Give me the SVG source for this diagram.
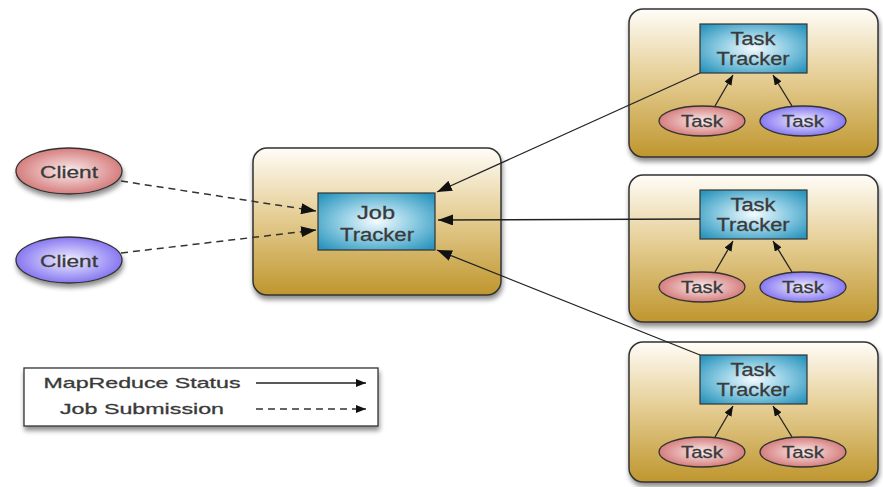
<svg xmlns="http://www.w3.org/2000/svg" width="883" height="487" viewBox="0 0 883 487">
<defs>
<linearGradient id="gold" x1="0" y1="0" x2="0" y2="1">
<stop offset="0" stop-color="#fffdf8"/>
<stop offset="0.45" stop-color="#e6cf97"/>
<stop offset="1" stop-color="#bf962e"/>
</linearGradient>
<radialGradient id="cyan" cx="0.5" cy="0.5" r="0.65">
<stop offset="0" stop-color="#f4fbff"/>
<stop offset="0.5" stop-color="#8ccbe2"/>
<stop offset="1" stop-color="#2c95bd"/>
</radialGradient>
<radialGradient id="red" cx="0.5" cy="0.5" r="0.55">
<stop offset="0" stop-color="#fbeeee"/>
<stop offset="1" stop-color="#d27272"/>
</radialGradient>
<radialGradient id="blue" cx="0.5" cy="0.5" r="0.55">
<stop offset="0" stop-color="#f1f0ff"/>
<stop offset="1" stop-color="#7c6cf0"/>
</radialGradient>
<filter id="sh" x="-10%" y="-10%" width="125%" height="130%">
<feGaussianBlur in="SourceAlpha" stdDeviation="2.5"/>
<feOffset dx="1" dy="4" result="b"/>
<feComponentTransfer><feFuncA type="linear" slope="0.45"/></feComponentTransfer>
<feMerge><feMergeNode/><feMergeNode in="SourceGraphic"/></feMerge>
</filter>
<marker id="ah" markerWidth="10" markerHeight="8" refX="10" refY="4" orient="auto" markerUnits="userSpaceOnUse" viewBox="0 0 10 8">
<path d="M0,0 L10,4 L0,8 z" fill="#111"/>
</marker>
<marker id="ahb" markerWidth="15" markerHeight="11" refX="15" refY="5.5" orient="auto" markerUnits="userSpaceOnUse" viewBox="0 0 15 11">
<path d="M0,0 L15,5.5 L0,11 z" fill="#111"/>
</marker>
</defs>
<style>
.outer{fill:url(#gold);stroke:#333;stroke-width:1.5;filter:url(#sh)}
.tr{fill:url(#cyan);stroke:#333;stroke-width:1.2}
.er{fill:url(#red);stroke:#333;stroke-width:1.3}
.eb{fill:url(#blue);stroke:#333;stroke-width:1.3}
text{font-family:"Liberation Sans",Arial,sans-serif;fill:#3a3a3a;stroke:#3a3a3a;stroke-width:0.3;text-anchor:middle}
.t{font-size:18px}
.c{font-size:17px}
.l{font-size:15px}
.sl{stroke:#222;stroke-width:1.3;fill:none}
.dl{stroke:#333;stroke-width:1.5;fill:none;stroke-dasharray:7,5}
</style>
<rect width="883" height="487" fill="#ffffff"/>

<g id="client-red">
<ellipse class="er" cx="69" cy="171" rx="53" ry="23" filter="url(#sh)"/>
<text class="c" x="69" y="178" textLength="58" lengthAdjust="spacingAndGlyphs">Client</text>
</g>
<g id="client-blue">
<ellipse class="eb" cx="69" cy="260" rx="53" ry="23" filter="url(#sh)"/>
<text class="c" x="69" y="267" textLength="58" lengthAdjust="spacingAndGlyphs">Client</text>
</g>

<g id="jobtracker-box">
<rect class="outer" x="253" y="148" width="248" height="147" rx="14"/>
</g>
<g id="jobtracker">
<rect class="tr" x="318" y="193" width="117" height="57"/>
<text class="t" x="376" y="219" textLength="38" lengthAdjust="spacingAndGlyphs">Job</text>
<text class="t" x="377" y="241" textLength="74" lengthAdjust="spacingAndGlyphs">Tracker</text>
</g>

<g id="node1">
<rect class="outer" x="629" y="9" width="249" height="148" rx="14"/>
<g id="tasktracker1">
<rect class="tr" x="700" y="24" width="107" height="49"/>
<text class="t" x="753" y="45" textLength="45" lengthAdjust="spacingAndGlyphs">Task</text>
<text class="t" x="753" y="65" textLength="73" lengthAdjust="spacingAndGlyphs">Tracker</text>
</g>
<g id="task1a"><ellipse class="er" cx="702" cy="121" rx="43" ry="15"/><text class="c" x="702" y="127" textLength="42" lengthAdjust="spacingAndGlyphs">Task</text></g>
<g id="task1b"><ellipse class="eb" cx="803" cy="121" rx="43" ry="15"/><text class="c" x="803" y="127" textLength="42" lengthAdjust="spacingAndGlyphs">Task</text></g>
</g>

<g id="node2">
<rect class="outer" x="629" y="175" width="249" height="147" rx="14"/>
<g id="tasktracker2">
<rect class="tr" x="700" y="190" width="107" height="49"/>
<text class="t" x="753" y="211" textLength="45" lengthAdjust="spacingAndGlyphs">Task</text>
<text class="t" x="753" y="231" textLength="73" lengthAdjust="spacingAndGlyphs">Tracker</text>
</g>
<g id="task2a"><ellipse class="er" cx="702" cy="287" rx="43" ry="15"/><text class="c" x="702" y="293" textLength="42" lengthAdjust="spacingAndGlyphs">Task</text></g>
<g id="task2b"><ellipse class="eb" cx="803" cy="287" rx="43" ry="15"/><text class="c" x="803" y="293" textLength="42" lengthAdjust="spacingAndGlyphs">Task</text></g>
</g>

<g id="node3">
<rect class="outer" x="629" y="342" width="249" height="140" rx="14"/>
<g id="tasktracker3">
<rect class="tr" x="700" y="355" width="107" height="49"/>
<text class="t" x="753" y="376" textLength="45" lengthAdjust="spacingAndGlyphs">Task</text>
<text class="t" x="753" y="396" textLength="73" lengthAdjust="spacingAndGlyphs">Tracker</text>
</g>
<g id="task3a"><ellipse class="er" cx="702" cy="452" rx="43" ry="15"/><text class="c" x="702" y="458" textLength="42" lengthAdjust="spacingAndGlyphs">Task</text></g>
<g id="task3b"><ellipse class="er" cx="803" cy="452" rx="43" ry="15"/><text class="c" x="803" y="458" textLength="42" lengthAdjust="spacingAndGlyphs">Task</text></g>
</g>

<g id="connectors">
<line class="dl" x1="121" y1="181" x2="316" y2="211" marker-end="url(#ahb)"/>
<line class="dl" x1="121" y1="253" x2="316" y2="230" marker-end="url(#ahb)"/>
<line class="sl" x1="700" y1="73" x2="437" y2="192" marker-end="url(#ahb)"/>
<line class="sl" x1="700" y1="219" x2="438" y2="220" marker-end="url(#ahb)"/>
<line class="sl" x1="700" y1="355" x2="437" y2="250" marker-end="url(#ahb)"/>
<line class="sl" x1="715" y1="106" x2="733" y2="75" marker-end="url(#ah)"/>
<line class="sl" x1="792" y1="106" x2="773" y2="75" marker-end="url(#ah)"/>
<line class="sl" x1="715" y1="272" x2="733" y2="241" marker-end="url(#ah)"/>
<line class="sl" x1="792" y1="272" x2="773" y2="241" marker-end="url(#ah)"/>
<line class="sl" x1="715" y1="437" x2="733" y2="406" marker-end="url(#ah)"/>
<line class="sl" x1="792" y1="437" x2="773" y2="406" marker-end="url(#ah)"/>
</g>

<g id="legend">
<rect x="24" y="368" width="354" height="58" fill="#fff" stroke="#333" stroke-width="1.3" filter="url(#sh)"/>
<text class="l" x="142" y="388" textLength="197" lengthAdjust="spacingAndGlyphs">MapReduce Status</text>
<text class="l" x="142" y="414" textLength="164" lengthAdjust="spacingAndGlyphs">Job Submission</text>
<line class="sl" x1="256" y1="383" x2="366" y2="383" marker-end="url(#ah)"/>
<line x1="256" y1="409" x2="366" y2="409" stroke="#333" stroke-width="1.3" stroke-dasharray="7,5" marker-end="url(#ah)"/>
</g>
</svg>
